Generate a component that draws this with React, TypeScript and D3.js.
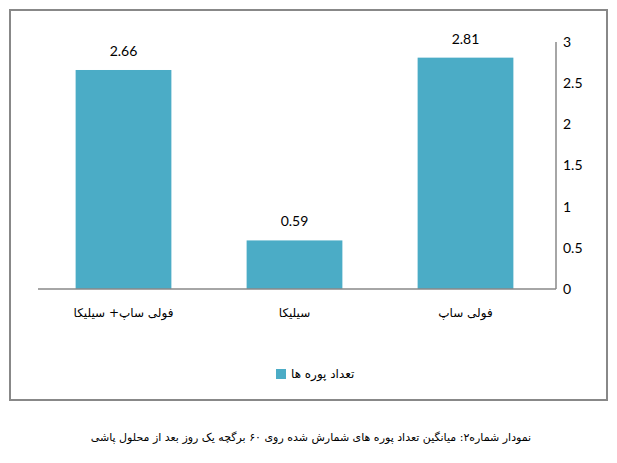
import React from "react";
import * as d3 from "d3";

const categories = ["فولی ساپ+ سیلیکا", "سیلیکا", "فولی ساپ"];
const values = [2.66, 0.59, 2.81];
const yTicks = [0, 0.5, 1, 1.5, 2, 2.5, 3];
const seriesName = "تعداد پوره ها";
const caption = "نمودار شماره۲: میانگین تعداد پوره های شمارش شده روی ۶۰ برگچه یک روز بعد از محلول پاشی";

export default function App() {
  const W = 617, H = 463;
  const left = 38, right = 556, top = 42, bottom = 289;
  const x = d3.scaleBand<string>().domain(categories).range([left, 551]).paddingInner(0.44).paddingOuter(0.22);
  const y = d3.scaleLinear().domain([0, 3]).range([bottom, top]);
  const color = "#4BACC6";
  const numFont = "Lato, 'Open Sans', 'DejaVu Sans', sans-serif";
  const faFont = "'DejaVu Sans', sans-serif";
  return (
    <svg width={W} height={H} style={{ position: "absolute", left: 0, top: 0, background: "#fff" }}>
      <rect x={10} y={10} width={597} height={390} fill="#fff" stroke="#888" strokeWidth={2} />
      {categories.map((c, i) => (
        <g key={c}>
          <rect x={x(c)} y={y(values[i])} width={x.bandwidth()} height={y(0) - y(values[i])} fill={color} />
          <text x={(x(c) as number) + x.bandwidth() / 2} y={y(values[i]) - 14} textAnchor="middle" fontFamily={numFont} fontSize={14} fill="#000">
            {values[i].toFixed(2)}
          </text>
          <text x={(x(c) as number) + x.bandwidth() / 2} y={bottom + 28} textAnchor="middle" fontFamily={faFont} fontSize={12} fill="#000" direction="rtl">
            {c}
          </text>
        </g>
      ))}
      <line x1={left} x2={right} y1={y(0)} y2={y(0)} stroke="#888" strokeWidth={1.5} />
      <line x1={right} x2={right} y1={y(3)} y2={y(0)} stroke="#888" strokeWidth={1.5} />
      {yTicks.map((t) => (
        <text key={t} x={563} y={y(t)} dy="0.35em" textAnchor="start" fontFamily={numFont} fontSize={14} fill="#000">
          {String(t)}
        </text>
      ))}
      <rect x={276} y={369} width={10} height={10} fill={color} />
      <text x={291} y={374} dy="0.35em" textAnchor="start" fontFamily={faFont} fontSize={12} fill="#000">
        {seriesName}
      </text>
      <text x={311} y={437} dy="0.35em" textAnchor="middle" fontFamily={faFont} fontSize={11} fill="#000" direction="rtl">
        {caption}
      </text>
    </svg>
  );
}
